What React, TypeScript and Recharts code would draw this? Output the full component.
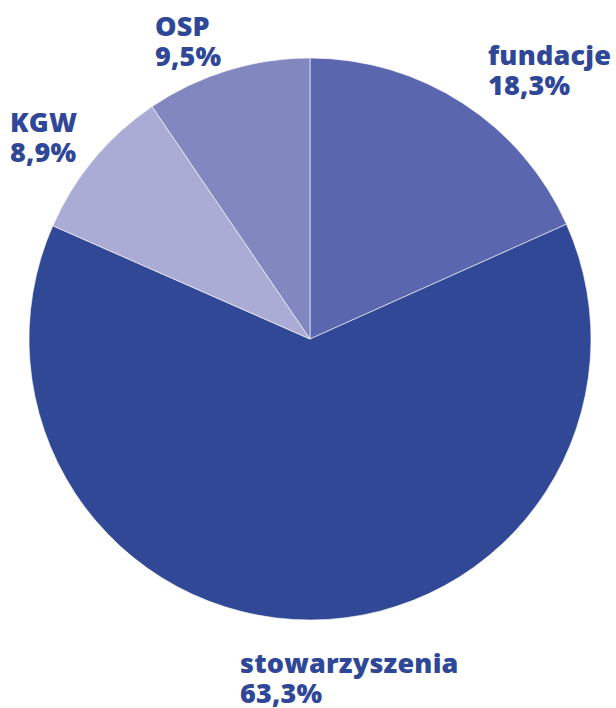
import { PieChart, Pie, Cell } from 'recharts'

const categories = ['fundacje', 'stowarzyszenia', 'KGW', 'OSP']
const shares = [18.3, 63.3, 8.9, 9.5]
const colors = ['#5A66AD', '#304896', '#ABACD6', '#8387C0']

// where each label's two lines start (left edge, first baseline)
const labelPos: Record<string, { x: number; y: number }> = {
  fundacje: { x: 488, y: 65 },
  stowarzyszenia: { x: 240, y: 673 },
  KGW: { x: 10, y: 132 },
  OSP: { x: 155, y: 36 },
}

const data = categories.map((name, i) => ({ name, value: shares[i] }))

const TEXT = '#2F4797'
const FONT = '"Open Sans", sans-serif'

function renderLabel(props: { name?: string; value?: number }) {
  const name = props.name ?? ''
  const p = labelPos[name]
  if (!p) return null
  const pct = `${(props.value ?? 0).toFixed(1).replace('.', ',')}%`
  return (
    <text
      x={p.x}
      y={p.y}
      fill={TEXT}
      fontFamily={FONT}
      fontWeight={800}
      fontSize={27}
      letterSpacing={0.2}
      textAnchor="start"
    >
      <tspan x={p.x} dy={0}>{name}</tspan>
      <tspan x={p.x} dy={30}>{pct}</tspan>
    </text>
  )
}

export default function App() {
  return (
    <div style={{ position: 'absolute', left: 0, top: 0, background: '#fff' }}>
      <PieChart width={616} height={708} margin={{ top: 0, right: 0, bottom: 0, left: 0 }}>
        <Pie
          data={data}
          dataKey="value"
          nameKey="name"
          cx={310}
          cy={339}
          outerRadius={281}
          startAngle={90}
          endAngle={-270}
          stroke="#ffffff"
          strokeWidth={0.6}
          label={renderLabel}
          labelLine={false}
          isAnimationActive={false}
        >
          {data.map((d, i) => (
            <Cell key={d.name} fill={colors[i]} />
          ))}
        </Pie>
      </PieChart>
    </div>
  )
}
